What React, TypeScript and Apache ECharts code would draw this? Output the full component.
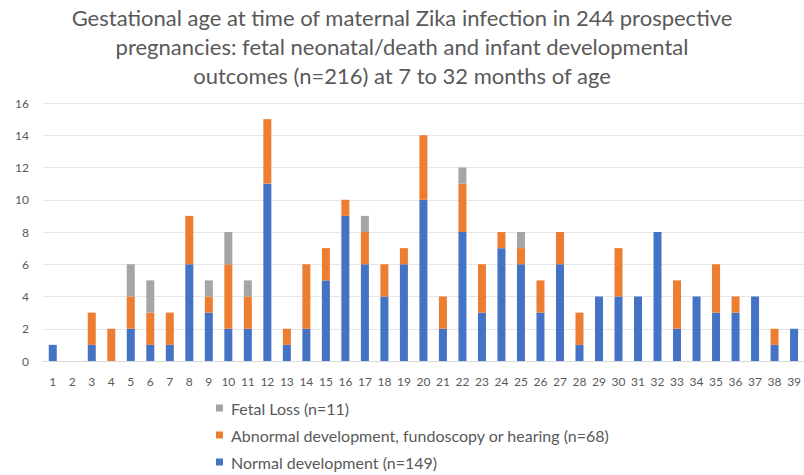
import React, { useEffect, useRef } from "react";
import * as echarts from "echarts";

const weeks = Array.from({ length: 39 }, (_, i) => String(i + 1));
const normalDev = [1, 0, 1, 0, 2, 1, 1, 6, 3, 2, 2, 11, 1, 2, 5, 9, 6, 4, 6, 10, 2, 8, 3, 7, 6, 3, 6, 1, 4, 4, 4, 8, 2, 4, 3, 3, 4, 1, 2];
const abnormalDev = [0, 0, 2, 2, 2, 2, 2, 3, 1, 4, 2, 4, 1, 4, 2, 1, 2, 2, 1, 4, 2, 3, 3, 1, 1, 2, 2, 2, 0, 3, 0, 0, 3, 0, 3, 1, 0, 1, 0];
const fetalLoss = [0, 0, 0, 0, 2, 2, 0, 0, 1, 2, 1, 0, 0, 0, 0, 0, 1, 0, 0, 0, 0, 1, 0, 0, 1, 0, 0, 0, 0, 0, 0, 0, 0, 0, 0, 0, 0, 0, 0];
const seriesNames = [
  "Normal development (n=149)",
  "Abnormal development, fundoscopy or hearing (n=68)",
  "Fetal Loss (n=11)",
];
const titleText =
  "Gestational age at time of maternal Zika infection in 244 prospective\npregnancies: fetal neonatal/death and infant developmental\noutcomes (n=216) at 7 to 32 months of age";

const FONT = "Lato, 'Open Sans', sans-serif";

export default function App() {
  const ref = useRef<HTMLDivElement>(null);
  useEffect(() => {
    document.body.style.margin = "0";
    document.body.style.overflow = "hidden";
    if (!ref.current) return;
    const chart = echarts.init(ref.current, undefined, { renderer: "svg" });
    const z = (v: number[]) => v.map((x) => (x === 0 ? null : x));
    chart.setOption({
      animation: false,
      textStyle: { fontFamily: FONT },
      title: {
        text: titleText,
        left: "center",
        top: 3,
        padding: 0,
        textStyle: {
          fontFamily: FONT,
          fontSize: 22,
          fontWeight: "normal",
          color: "#595959",
          lineHeight: 29,
        },
      },
      legend: {
        orient: "vertical",
        left: 216,
        top: 399,
        padding: 0,
        itemWidth: 7,
        itemHeight: 7,
        itemGap: 9,
        icon: "rect",
        data: [seriesNames[2], seriesNames[1], seriesNames[0]],
        textStyle: { fontFamily: FONT, fontSize: 16, color: "#595959", lineHeight: 18, padding: [0, 0, 0, 3] },
      },
      grid: { left: 43, top: 103, width: 764, height: 258, containLabel: false },
      xAxis: {
        type: "category",
        data: weeks,
        axisLine: { show: true, lineStyle: { color: "#d9d9d9" } },
        axisTick: { show: false },
        axisLabel: { color: "#595959", fontSize: 12, margin: 14, interval: 0 },
      },
      yAxis: {
        type: "value",
        min: 0,
        max: 16,
        interval: 2,
        axisLine: { show: false },
        axisTick: { show: false },
        axisLabel: { color: "#595959", fontSize: 12, margin: 14 },
        splitLine: { lineStyle: { color: "#e6e6e6" } },
      },
      series: [
        { name: seriesNames[0], type: "bar", stack: "t", barWidth: 8, data: z(normalDev), itemStyle: { color: "#4472C4" } },
        { name: seriesNames[1], type: "bar", stack: "t", barWidth: 8, data: z(abnormalDev), itemStyle: { color: "#ED7D31" } },
        { name: seriesNames[2], type: "bar", stack: "t", barWidth: 8, data: z(fetalLoss), itemStyle: { color: "#A5A5A5" } },
      ],
    });
    return () => chart.dispose();
  }, []);
  return <div ref={ref} style={{ width: 804, height: 475 }} />;
}
